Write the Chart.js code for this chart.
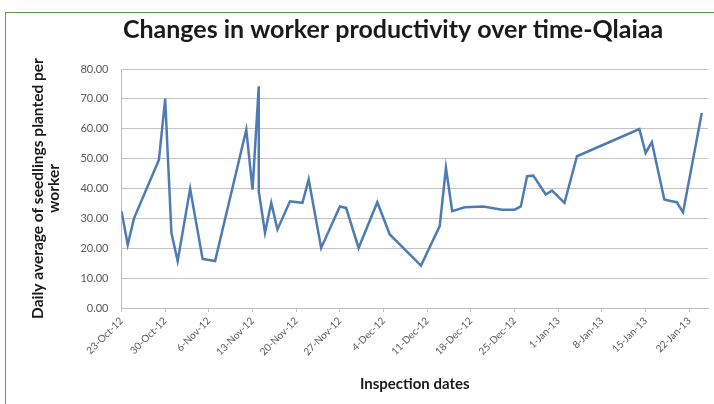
<!DOCTYPE html>
<html>
<head>
<meta charset="utf-8">
<script src="https://cdn.jsdelivr.net/npm/chart.js@4/dist/chart.umd.min.js"></script>
<style>
  body { margin: 0; background: #fff; }
  .wrap { position: relative; width: 714px; height: 404px; }
  .frame {
    position: absolute; left: 5px; top: 12px; right: 0; bottom: 0;
    border-top: 1.5px solid #5e9b4f; border-left: 1.5px solid #5e9b4f;
    pointer-events: none;
  }
</style>
</head>
<body>
<div class="wrap">
  <canvas id="productivityChart"></canvas>
  <div class="frame"></div>
</div>
<script>
// inspection dates and the daily average per worker on each date
const inspectionDates = [
    '23-Oct-12', '24-Oct-12', '25-Oct-12', '29-Oct-12', '30-Oct-12', '31-Oct-12',
    '1-Nov-12', '3-Nov-12', '5-Nov-12', '7-Nov-12', '12-Nov-12', '13-Nov-12',
    '14-Nov-12', '14-Nov-12', '15-Nov-12', '16-Nov-12', '17-Nov-12', '19-Nov-12',
    '21-Nov-12', '22-Nov-12', '24-Nov-12', '27-Nov-12', '28-Nov-12', '30-Nov-12',
    '3-Dec-12', '5-Dec-12', '10-Dec-12', '13-Dec-12', '14-Dec-12', '15-Dec-12',
    '17-Dec-12', '20-Dec-12', '23-Dec-12', '25-Dec-12', '26-Dec-12', '27-Dec-12',
    '28-Dec-12', '30-Dec-12', '31-Dec-12', '2-Jan-13', '4-Jan-13', '14-Jan-13',
    '15-Jan-13', '16-Jan-13', '18-Jan-13', '19-Jan-13', '20-Jan-13', '21-Jan-13',
    '24-Jan-13'
];
const seedlingsPerWorker = [
    32.4, 21.2, 30.0, 49.6, 70.0, 25.2,
    15.7, 39.9, 16.4, 15.7, 59.7, 39.6,
    74.2, 39.0, 25.2, 35.2, 26.3, 35.7,
    35.2, 43.0, 20.1, 34.0, 33.5, 20.1,
    35.4, 24.6, 14.2, 27.4, 46.9, 32.4,
    33.7, 34.0, 32.9, 32.9, 34.0, 44.1,
    44.3, 38.0, 39.3, 35.2, 50.8, 59.9,
    51.9, 55.5, 36.3, 35.8, 35.4, 32.0,
    65.3
];
const xTickLabels = [
    '23-Oct-12', '30-Oct-12', '6-Nov-12', '13-Nov-12', '20-Nov-12', '27-Nov-12', '4-Dec-12',
    '11-Dec-12', '18-Dec-12', '25-Dec-12', '1-Jan-13', '8-Jan-13', '15-Jan-13', '22-Jan-13'
];
const axisEndDate = '25-Jan-13';

const months = { Jan: 0, Feb: 1, Mar: 2, Apr: 3, May: 4, Jun: 5, Jul: 6, Aug: 7, Sep: 8, Oct: 9, Nov: 10, Dec: 11 };
const DAY = 86400000;

// days since the first inspection, for a 'd-Mon-yy' string
function dayOf(label) {
    const [d, m, y] = label.split('-');
    const t = Date.UTC(2000 + Number(y), months[m], Number(d));
    const [d0, m0, y0] = inspectionDates[0].split('-');
    return Math.round((t - Date.UTC(2000 + Number(y0), months[m0], Number(d0))) / DAY);
}

const points = inspectionDates.map((d, i) => ({ x: dayOf(d), y: seedlingsPerWorker[i] }));
const tickDays = xTickLabels.map(dayOf);

// chart title, centred over the plot like the spreadsheet original
const heading = {
    id: 'heading',
    afterDraw(chart) {
        const c = chart.ctx;
        c.save();
        c.font = 'bold 25px Lato';
        c.fillStyle = '#1a1a1a';
        c.textAlign = 'center';
        c.textBaseline = 'middle';
        c.fillText('Changes in worker productivity over time-Qlaiaa', 393, 30);
        c.restore();
    }
};

const ctx = document.getElementById('productivityChart').getContext('2d');
const chart = new Chart(ctx, {
    type: 'line',
    data: {
        datasets: [{
            data: points,
            borderColor: '#4f7bb5',
            borderWidth: 2.5,
            pointRadius: 0,
            tension: 0,
            fill: false
        }]
    },
    plugins: [heading],
    options: {
        responsive: true,
        maintainAspectRatio: false,
        animation: false,
        layout: {
            padding: { top: 69, left: 10, right: 6, bottom: 8 }
        },
        plugins: {
            legend: { display: false },
            tooltip: { enabled: false }
        },
        scales: {
            x: {
                type: 'linear',
                min: 0,
                max: dayOf(axisEndDate),
                afterBuildTicks: function(scale) {
                    scale.ticks = tickDays.map(v => ({ value: v }));
                },
                afterFit: function(scale) {
                    scale.height = 88;
                },
                ticks: {
                    autoSkip: false,
                    minRotation: 45,
                    maxRotation: 45,
                    padding: 3,
                    color: '#595959',
                    font: { family: 'Lato', size: 10 },
                    callback: function(value, index) {
                        return xTickLabels[index];
                    }
                },
                grid: {
                    drawOnChartArea: false,
                    drawTicks: true,
                    tickLength: 4,
                    color: '#bfbfbf'
                },
                border: { color: '#bfbfbf' },
                title: {
                    display: true,
                    text: 'Inspection dates',
                    color: '#1a1a1a',
                    padding: { top: 0, bottom: 3 },
                    font: { family: 'Lato', size: 15, weight: 'bold' }
                }
            },
            y: {
                min: 0,
                max: 80,
                afterFit: function(scale) {
                    scale.width = 111.5;
                },
                ticks: {
                    stepSize: 10,
                    padding: 13,
                    color: '#595959',
                    font: { family: 'Lato', size: 11 },
                    callback: function(value) {
                        return value.toFixed(2);
                    }
                },
                grid: {
                    drawTicks: false,
                    color: '#c4c4c4',
                    lineWidth: 1
                },
                border: { color: '#bfbfbf' },
                title: {
                    display: true,
                    text: ['Daily average of seedlings planted per', 'worker'],
                    color: '#1a1a1a',
                    padding: { top: 20, bottom: 0 },
                    font: { family: 'Lato', size: 15.5, weight: 'bold', lineHeight: 1.05 }
                }
            }
        }
    }
});
</script>
</body>
</html>
